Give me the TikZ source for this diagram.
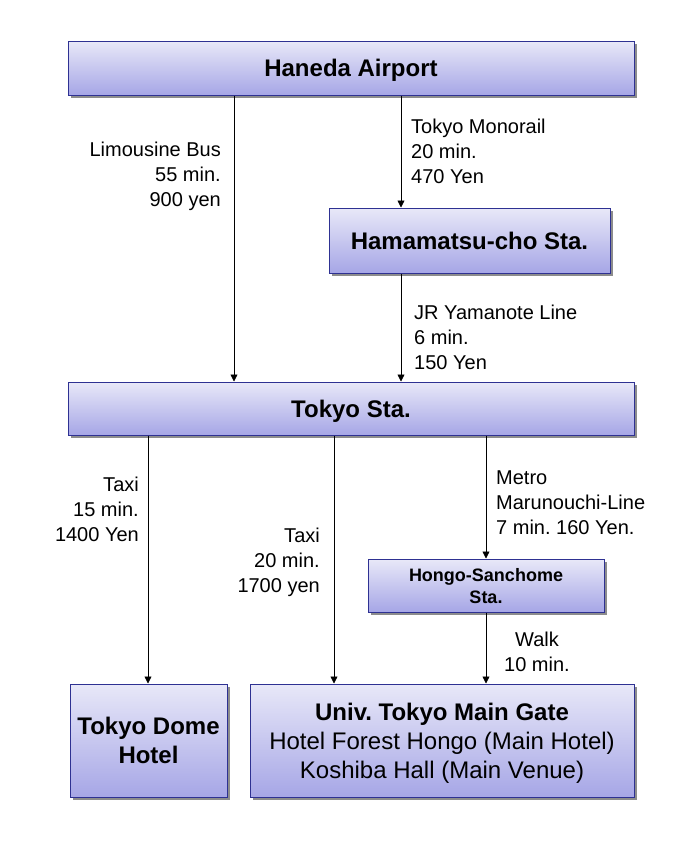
\documentclass[tikz,border=0pt]{standalone}
\usepackage{fontspec}
\setmainfont{Liberation Sans}
\usetikzlibrary{arrows.meta,shadows}
\definecolor{boxTop}{HTML}{E8E8F8}
\definecolor{boxBot}{HTML}{A6A6E6}
\definecolor{boxLine}{HTML}{2E3192}
\tikzset{station/.style={draw=boxLine, line width=1pt, top color=boxTop, bottom color=boxBot,
		inner sep=0pt, align=center, text depth=0pt, font=\fontsize{24}{29}\selectfont\bfseries,
		drop shadow={shadow xshift=3pt, shadow yshift=-3pt, fill=black!45, opacity=1}}}
\tikzset{route/.style={font=\fontsize{20}{25}\selectfont, inner sep=0pt}}
\tikzset{arr/.style={-{Triangle[length=7pt,width=7pt]}, line width=0.8pt}}
\frenchspacing

\begin{document}
\begin{tikzpicture}[x=1pt,y=-1pt]
	\useasboundingbox[fill=white] (0,0) rectangle (678,844);
	% stations
	\node[station, minimum width=566pt, minimum height=54pt] (haneda) at (351,68) {Haneda Airport};
	\node[station, minimum width=281pt, minimum height=65pt] (hamamatsu) at (469.5,240.5) {Hamamatsu-cho Sta.};
	\node[station, minimum width=566pt, minimum height=53pt] (tokyo) at (351,408.5) {Tokyo Sta.};
	\node[station, minimum width=236pt, minimum height=53pt, font=\fontsize{18}{22}\selectfont\bfseries] (hongo) at (486,585.5) {Hongo-Sanchome\\Sta.};
	\node[station, minimum width=157pt, minimum height=113pt] (dome) at (148.5,740.5) {Tokyo Dome\\Hotel};
	\node[station, minimum width=384pt, minimum height=113pt] (univ) at (442,740.5) {Univ. Tokyo Main Gate\\{\mdseries Hotel Forest Hongo (Main Hotel)}\\{\mdseries Koshiba Hall (Main Venue)}};
	% routes
	\draw[arr] ([xshift=-117pt]haneda.south) -- ([xshift=-117pt]tokyo.north);
	\draw[arr] ([xshift=50pt]haneda.south) -- ([xshift=50pt]haneda.south |- hamamatsu.north);
	\draw[arr] ([xshift=-68.5pt]hamamatsu.south) -- ([xshift=-68.5pt]hamamatsu.south |- tokyo.north);
	\draw[arr] ([xshift=-203pt]tokyo.south) -- ([xshift=-203pt]tokyo.south |- dome.north);
	\draw[arr] ([xshift=-17pt]tokyo.south) -- ([xshift=-17pt]tokyo.south |- univ.north);
	\draw[arr] ([xshift=135pt]tokyo.south) -- (hongo.north);
	\draw[arr] (hongo.south) -- ([xshift=44pt]univ.north);
	% labels
	\node[route, anchor=east, align=right] (bus) at (221,176) {Limousine Bus\\55 min.\\900 yen};
	\node[route, anchor=west, align=left] (mono) at (411,151) {Tokyo Monorail\\20 min.\\470 Yen};
	\node[route, anchor=west, align=left] (jr) at (414,337) {JR Yamanote Line\\6 min.\\150 Yen};
	\node[route, anchor=east, align=right] (taxia) at (139,509) {Taxi\\15 min.\\1400 Yen};
	\node[route, anchor=east, align=right] (taxib) at (320,562) {Taxi\\20 min.\\1700 yen};
	\node[route, anchor=west, align=left] (metro) at (496,503) {Metro\\Marunouchi-Line\\7 min. 160 Yen.};
	\node[route, align=center] (walk) at (537,652) {Walk\\10 min.};
\end{tikzpicture}
\end{document}
